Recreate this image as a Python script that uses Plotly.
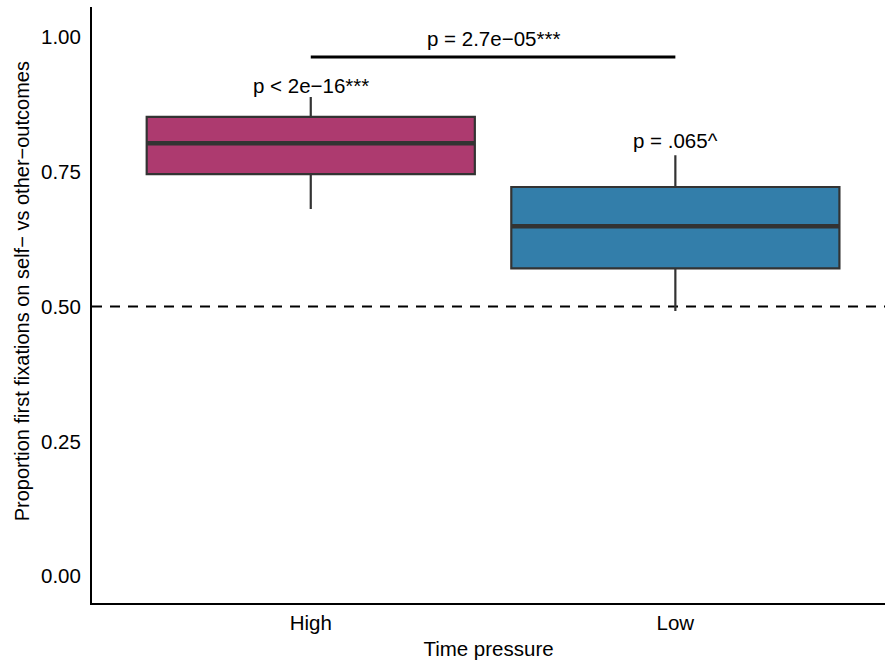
import plotly.graph_objects as go

categories = ["High", "Low"]
xpos = [1, 2]
q1 = [0.746, 0.571]
median = [0.803, 0.649]
q3 = [0.852, 0.722]
lower = [0.681, 0.492]
upper = [0.889, 0.781]
colors = ["#AD3A6F", "#337EAA"]
group_labels = ["p < 2e\u221216***", "p = .065^"]
group_label_y = [0.911, 0.809]
compare_label = "p = 2.7e\u221205***"
compare_y = 0.963
chance = 0.5
box_w = 0.9
y_ticks = [0, 0.25, 0.5, 0.75, 1.0]
y_ticklabels = ["0.00", "0.25", "0.50", "0.75", "1.00"]

FONT = "Liberation Sans, Arial, Helvetica, sans-serif"
LINE = "#333333"
FS = 20.5

fig = go.Figure()
for i in range(2):
    fig.add_trace(go.Box(
        x=[xpos[i]], q1=[q1[i]], median=[median[i]], q3=[q3[i]],
        lowerfence=[lower[i]], upperfence=[upper[i]],
        width=box_w, whiskerwidth=0,
        fillcolor=colors[i], line=dict(color=LINE, width=2.2),
        boxpoints=False, showlegend=False, hoverinfo="skip",
    ))
    fig.add_shape(type="line", xref="x", yref="y",
                  x0=xpos[i] - box_w / 2, x1=xpos[i] + box_w / 2,
                  y0=median[i], y1=median[i],
                  line=dict(color=LINE, width=4.5), layer="above")
    fig.add_annotation(x=xpos[i], y=group_label_y[i], text=group_labels[i],
                       showarrow=False, font=dict(size=FS, color="black", family=FONT),
                       xanchor="center", yanchor="middle")

fig.add_shape(type="line", xref="paper", yref="y", x0=0, x1=1, y0=chance, y1=chance,
              line=dict(color="black", width=2, dash="10px,8px"), layer="below")

fig.add_shape(type="line", xref="x", yref="y", x0=xpos[0], x1=xpos[1],
              y0=compare_y, y1=compare_y, line=dict(color="black", width=3))
fig.add_annotation(x=(xpos[0] + xpos[1]) / 2, y=compare_y, text=compare_label,
                   showarrow=False, yshift=19, font=dict(size=FS, color="black", family=FONT),
                   xanchor="center", yanchor="middle")

fig.add_annotation(xref="paper", yref="paper", x=0, y=0.523, xshift=-70,
                   text="Proportion first fixations on self\u2212 vs other\u2212outcomes",
                   textangle=-90, showarrow=False,
                   font=dict(size=20, color="black", family=FONT),
                   xanchor="center", yanchor="middle")

fig.update_layout(
    width=885, height=665,
    margin=dict(l=92, r=0, t=7, b=62),
    plot_bgcolor="white", paper_bgcolor="white",
    font=dict(family=FONT, size=FS, color="black"),
    showlegend=False,
    xaxis=dict(
        range=[0.4, 2.575], tickvals=xpos, ticktext=categories,
        showline=True, linecolor="black", linewidth=2, showgrid=False, zeroline=False,
        ticks="", ticklabelstandoff=0,
        tickfont=dict(size=FS, color="black"),
        title=dict(text="Time pressure", font=dict(size=FS, color="black"), standoff=9),
    ),
    yaxis=dict(
        range=[-0.05, 1.056], tickvals=y_ticks, ticktext=y_ticklabels,
        showline=True, linecolor="black", linewidth=2, showgrid=False, zeroline=False,
        ticks="", ticklabelstandoff=5,
        tickfont=dict(size=FS, color="black"),
    ),
)

fig.write_html("out.html")
